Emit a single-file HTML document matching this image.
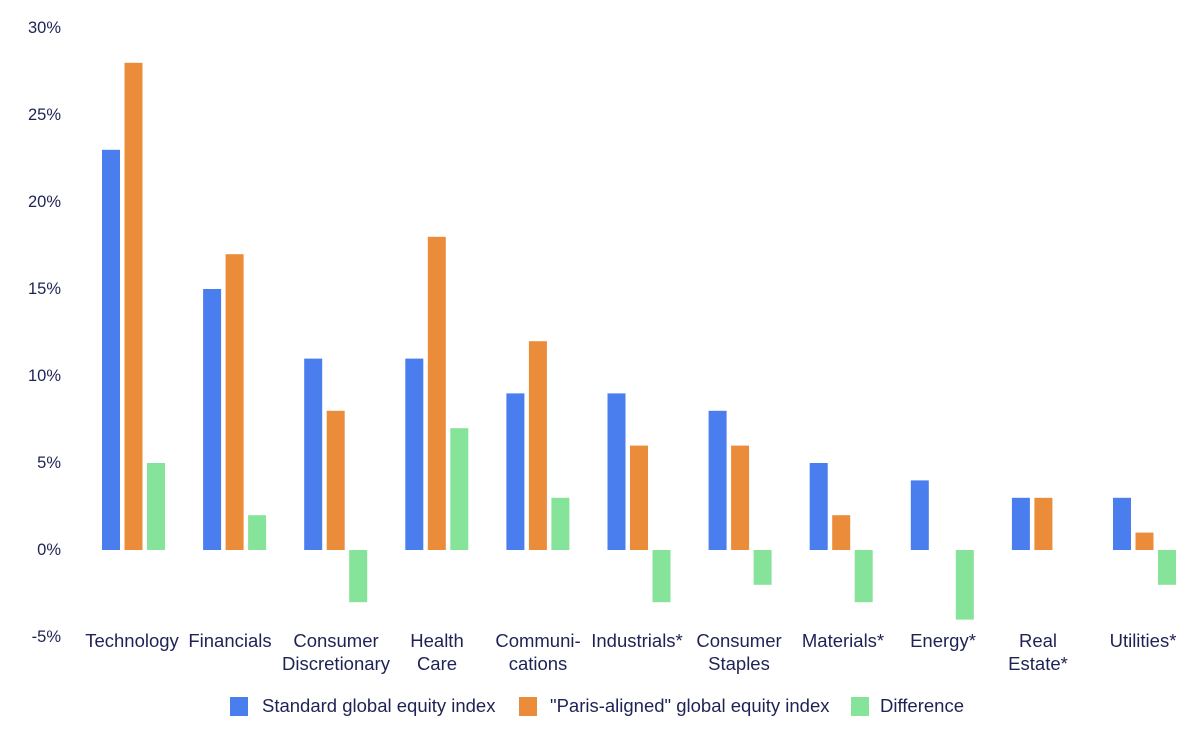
<!DOCTYPE html>
<html><head><meta charset="utf-8"><style>
html,body{margin:0;padding:0;background:#fff;}
svg{display:block;font-family:"Liberation Sans",sans-serif;}
text{fill:#1e2354;font-size:18.5px;}
.t{font-size:16.5px;}
.b{fill:#4a7ded}.o{fill:#eb8c3a}.g{fill:#86e39a}
</style></head><body>
<svg width="1200" height="744" viewBox="0 0 1200 744">
<g text-anchor="end" class="t">
<text class="t" x="61" y="33">30%</text>
<text class="t" x="61" y="120">25%</text>
<text class="t" x="61" y="207">20%</text>
<text class="t" x="61" y="294">15%</text>
<text class="t" x="61" y="381">10%</text>
<text class="t" x="61" y="468">5%</text>
<text class="t" x="61" y="555">0%</text>
<text class="t" x="61" y="642">-5%</text>
</g>
<g>
<rect class="b" x="102" y="149.8" width="18" height="400.2"/><rect class="o" x="124.5" y="62.8" width="18" height="487.2"/><rect class="g" x="147" y="463" width="18" height="87"/>
<rect class="b" x="203.1" y="289" width="18" height="261"/><rect class="o" x="225.6" y="254.2" width="18" height="295.8"/><rect class="g" x="248.1" y="515.2" width="18" height="34.8"/>
<rect class="b" x="304.2" y="358.6" width="18" height="191.4"/><rect class="o" x="326.7" y="410.8" width="18" height="139.2"/><rect class="g" x="349.2" y="550" width="18" height="52.2"/>
<rect class="b" x="405.3" y="358.6" width="18" height="191.4"/><rect class="o" x="427.8" y="236.8" width="18" height="313.2"/><rect class="g" x="450.3" y="428.2" width="18" height="121.8"/>
<rect class="b" x="506.4" y="393.4" width="18" height="156.6"/><rect class="o" x="528.9" y="341.2" width="18" height="208.8"/><rect class="g" x="551.4" y="497.8" width="18" height="52.2"/>
<rect class="b" x="607.5" y="393.4" width="18" height="156.6"/><rect class="o" x="630" y="445.6" width="18" height="104.4"/><rect class="g" x="652.5" y="550" width="18" height="52.2"/>
<rect class="b" x="708.6" y="410.8" width="18" height="139.2"/><rect class="o" x="731.1" y="445.6" width="18" height="104.4"/><rect class="g" x="753.6" y="550" width="18" height="34.8"/>
<rect class="b" x="809.7" y="463" width="18" height="87"/><rect class="o" x="832.2" y="515.2" width="18" height="34.8"/><rect class="g" x="854.7" y="550" width="18" height="52.2"/>
<rect class="b" x="910.8" y="480.4" width="18" height="69.6"/><rect class="g" x="955.8" y="550" width="18" height="69.6"/>
<rect class="b" x="1011.9" y="497.8" width="18" height="52.2"/><rect class="o" x="1034.4" y="497.8" width="18" height="52.2"/>
<rect class="b" x="1113" y="497.8" width="18" height="52.2"/><rect class="o" x="1135.5" y="532.6" width="18" height="17.4"/><rect class="g" x="1158" y="550" width="18" height="34.8"/>
</g>
<g text-anchor="middle">
<text x="132" y="647">Technology</text>
<text x="230" y="647">Financials</text>
<text x="336" y="647">Consumer</text><text x="336" y="670">Discretionary</text>
<text x="437" y="647">Health</text><text x="437" y="670">Care</text>
<text x="538" y="647">Communi-</text><text x="538" y="670">cations</text>
<text x="637" y="647">Industrials*</text>
<text x="739" y="647">Consumer</text><text x="739" y="670">Staples</text>
<text x="843" y="647">Materials*</text>
<text x="943" y="647">Energy*</text>
<text x="1038" y="647">Real</text><text x="1038" y="670">Estate*</text>
<text x="1143" y="647">Utilities*</text>
</g>
<rect class="b" x="230" y="697" width="18" height="19"/><text x="262" y="712">Standard global equity index</text>
<rect class="o" x="519" y="697" width="18" height="19"/><text x="550" y="712">"Paris-aligned" global equity index</text>
<rect class="g" x="851" y="697" width="18" height="19"/><text x="880" y="712">Difference</text>
</svg>
</body></html>
